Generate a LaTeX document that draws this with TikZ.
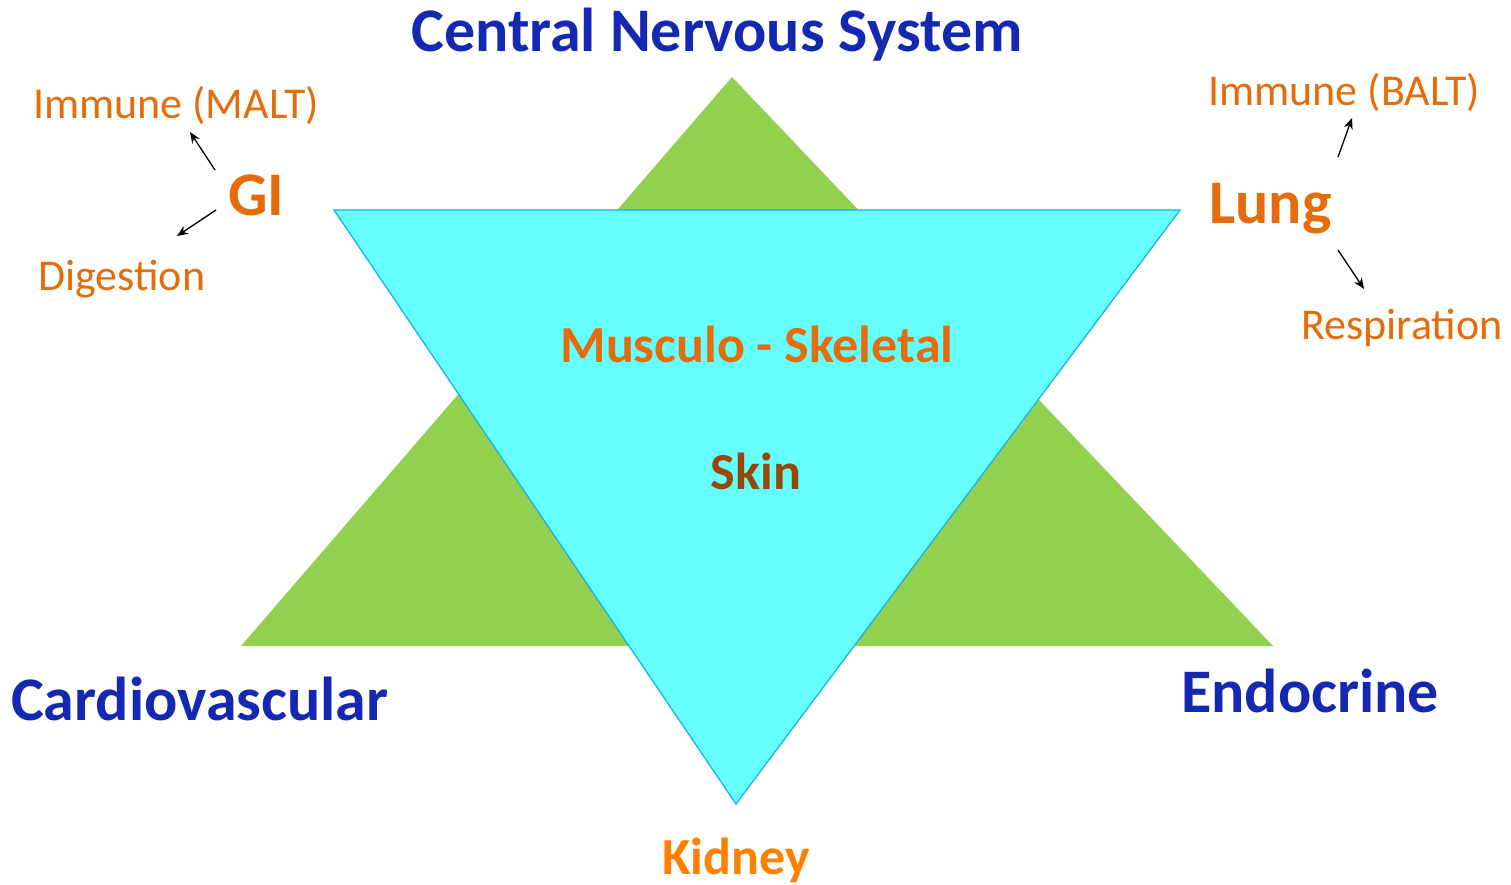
\documentclass[tikz,border=0pt]{standalone}
\usepackage{fontspec}
\setmainfont{Carlito}
\usetikzlibrary{arrows.meta}
\definecolor{tgreen}{HTML}{92D050}
\definecolor{tcyan}{HTML}{66FFFF}
\definecolor{tcyanline}{HTML}{1AB0E8}
\definecolor{tblue}{HTML}{1428B2}
\definecolor{torange}{HTML}{E46C0A}
\definecolor{tkidney}{HTML}{FF8000}
\definecolor{tbrown}{HTML}{984806}
\tikzset{
  bigblue/.style={font=\fontsize{62}{62}\selectfont\bfseries, text=tblue, inner sep=0pt},
  bigorange/.style={font=\fontsize{62}{62}\selectfont\bfseries, text=torange, inner sep=0pt},
  midlabel/.style={font=\fontsize{52}{52}\selectfont\bfseries, inner sep=0pt},
  smallorange/.style={font=\fontsize{44}{44}\selectfont, text=torange, inner sep=0pt},
  arr/.style={-{Stealth[length=11pt,width=9pt]}, line width=1.3pt, black},
}
\begin{document}
\begin{tikzpicture}[x=1pt,y=-1pt]
\useasboundingbox (0,0) rectangle (1511,885);
% green triangle
\fill[tgreen] (732,77) -- (1273,646) -- (241,646) -- cycle;
% cyan triangle
\filldraw[fill=tcyan, draw=tcyanline, line width=1.3pt, line join=miter] (334,210) -- (1180,210) -- (736,804) -- cycle;

% labels
\node[bigblue, anchor=base] (cns) at (717,52) {Central Nervous System};
\node[bigblue, anchor=base west] (cardio) at (11,720) {Cardiovascular};
\node[bigblue, anchor=base west] (endo) at (1181,712) {Endocrine};
\node[bigorange, anchor=base west] (gi) at (228,216) {GI};
\node[bigorange, anchor=base west] (lung) at (1209,224) {Lung};
\node[midlabel, text=torange, anchor=base] (ms) at (757,362) {Musculo - Skeletal};
\node[midlabel, text=tbrown, anchor=base] (skin) at (756,489) {Skin};
\node[midlabel, text=tkidney, anchor=base] (kidney) at (736,874) {Kidney};
\node[smallorange, anchor=base west] (malt) at (33,119) {Immune (MALT)};
\node[smallorange, anchor=base west] (dig) at (38,290) {Digestion};
\node[smallorange, anchor=base west] (balt) at (1208,106) {Immune (BALT)};
\node[smallorange, anchor=base west] (resp) at (1301,339) {Respiration};

% arrow end points
\coordinate (giA) at (215,170);
\coordinate (giAt) at (190,132);
\coordinate (giB) at (216,210);
\coordinate (giBt) at (177,236);
\coordinate (luA) at (1338,157);
\coordinate (luAt) at (1352,118);
\coordinate (luB) at (1338,250);
\coordinate (luBt) at (1364,289);
\draw[arr] (giA) -- (giAt);
\draw[arr] (giB) -- (giBt);
\draw[arr] (luA) -- (luAt);
\draw[arr] (luB) -- (luBt);
\end{tikzpicture}
\end{document}
